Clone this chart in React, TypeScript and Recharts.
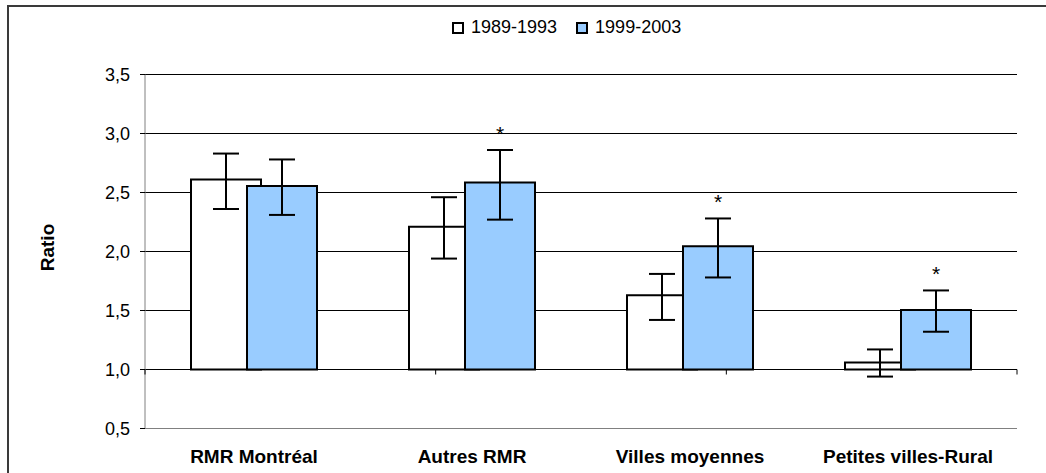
import React from 'react';
import {
  ComposedChart,
  Bar,
  XAxis,
  YAxis,
  CartesianGrid,
  ErrorBar,
  ReferenceLine,
  ReferenceDot,
  LabelList,
  Legend,
} from 'recharts';

const categories = ['RMR Montréal', 'Autres RMR', 'Villes moyennes', 'Petites villes-Rural'];
const seriesNames = ['1989-1993', '1999-2003'];
const period1 = [2.61, 2.21, 1.63, 1.06];
const period1Low = [2.36, 1.94, 1.42, 0.94];
const period1High = [2.83, 2.46, 1.81, 1.17];
const period2 = [2.555, 2.585, 2.045, 1.505];
const period2Low = [2.31, 2.27, 1.78, 1.32];
const period2High = [2.78, 2.86, 2.28, 1.67];
const significant = [false, true, true, true];
const BASE = 1.0;
const yTicks = [0.5, 1.0, 1.5, 2.0, 2.5, 3.0, 3.5];
const boundaryTicks = [0, 1, 2, 3, 4];

const data = categories.map((name, i) => ({
  name,
  a: [BASE, period1[i]],
  b: [BASE, period2[i]],
  errA: [period1[i] - period1Low[i], period1High[i] - period1[i]],
  errB: [period2[i] - period2Low[i], period2High[i] - period2[i]],
}));

const FONT = '"Liberation Sans", Arial, sans-serif';
const BLUE = '#99CCFF';

const LegendContent = () => (
  <div style={{ display: 'flex', alignItems: 'center', fontFamily: FONT, fontSize: 18, color: '#000', whiteSpace: 'nowrap' }}>
    {seriesNames.map((s, i) => (
      <div key={s} style={{ display: 'flex', alignItems: 'center', marginRight: i === 0 ? 19 : 0 }}>
        <div
          style={{
            width: 12,
            height: 12,
            boxSizing: 'border-box',
            border: '2px solid #000',
            background: i === 0 ? '#fff' : BLUE,
            marginRight: 7,
          }}
        />
        <span>{s}</span>
      </div>
    ))}
  </div>
);

const Asterisk = (props: any) => {
  const { x, y, width, height, index } = props;
  if (!significant[index]) return null;
  const v = period2[index];
  const ppu = height / (v - BASE);
  const yTop = y - (period2High[index] - v) * ppu;
  return (
    <text x={x + width / 2} y={yTop - 9} textAnchor="middle" fontFamily={FONT} fontSize={21} fill="#000">
      *
    </text>
  );
};

const RatioLabel = (props: any) => {
  const vb = props.viewBox;
  const cx = vb.x + 47;
  const cy = vb.y + vb.height / 2 - 4;
  return (
    <text
      x={cx}
      y={cy}
      transform={`rotate(-90, ${cx}, ${cy})`}
      textAnchor="middle"
      dominantBaseline="central"
      fontFamily={FONT}
      fontWeight="bold"
      fontSize={19}
      fill="#000"
    >
      Ratio
    </text>
  );
};

export default function App() {
  return (
    <div style={{ position: 'absolute', left: 0, top: 0, width: 1046, height: 473, overflow: 'hidden', background: '#fff' }}>
      <div
        style={{
          position: 'absolute',
          left: 7,
          top: 5,
          width: 1200,
          height: 700,
          borderLeft: '2px solid #3a3a3a',
          borderTop: '2px solid #3a3a3a',
        }}
      />
      <div style={{ position: 'absolute', left: 0, top: 0 }}>
        <ComposedChart
          width={1046}
          height={473}
          data={data}
          margin={{ top: 74.5, right: 29, bottom: 0, left: 0 }}
          barGap={-14}
          barSize={70}
        >
          <CartesianGrid horizontal vertical={false} stroke="#000" strokeWidth={1} />
          <XAxis
            dataKey="name"
            height={44.5}
            axisLine={{ stroke: '#808080' }}
            tickLine={false}
            tickSize={5}
            tickMargin={16}
            tick={{ fontFamily: FONT, fontSize: 19, fontWeight: 'bold', fill: '#000' }}
            interval={0}
          />
          <XAxis xAxisId="num" type="number" domain={[0, 4]} hide />
          <YAxis
            type="number"
            domain={[0.5, 3.5]}
            ticks={yTicks}
            width={145}
            interval={0}
            axisLine={{ stroke: '#808080' }}
            tickLine={{ stroke: '#000' }}
            tickSize={5}
            tickMargin={10}
            tick={{ fontFamily: FONT, fontSize: 18, fill: '#000' }}
            tickFormatter={(v: number) => v.toFixed(1).replace('.', ',')}
            label={<RatioLabel />}
          />
          <Legend
            layout="horizontal"
            verticalAlign="middle"
            align="center"
            content={<LegendContent />}
            wrapperStyle={{ top: 17, left: 452, width: 260, height: 21 }}
          />
          <Bar dataKey="a" name={seriesNames[0]} fill="#fff" stroke="#000" strokeWidth={2} isAnimationActive={false}>
            <ErrorBar dataKey="errA" direction="y" width={13} stroke="#000" strokeWidth={2} isAnimationActive={false} />
          </Bar>
          <Bar dataKey="b" name={seriesNames[1]} fill={BLUE} stroke="#000" strokeWidth={2} isAnimationActive={false}>
            <ErrorBar dataKey="errB" direction="y" width={13} stroke="#000" strokeWidth={2} isAnimationActive={false} />
            <LabelList dataKey="b" content={<Asterisk />} />
          </Bar>
          <ReferenceLine y={BASE} stroke="#000" strokeWidth={1} />
          {boundaryTicks.map((t) => (
            <ReferenceDot
              key={t}
              xAxisId="num"
              x={t}
              y={BASE}
              r={0}
              shape={(p: any) => <line x1={p.cx} y1={p.cy} x2={p.cx} y2={p.cy + 5} stroke="#000" strokeWidth={1} />}
            />
          ))}
        </ComposedChart>
      </div>
    </div>
  );
}
